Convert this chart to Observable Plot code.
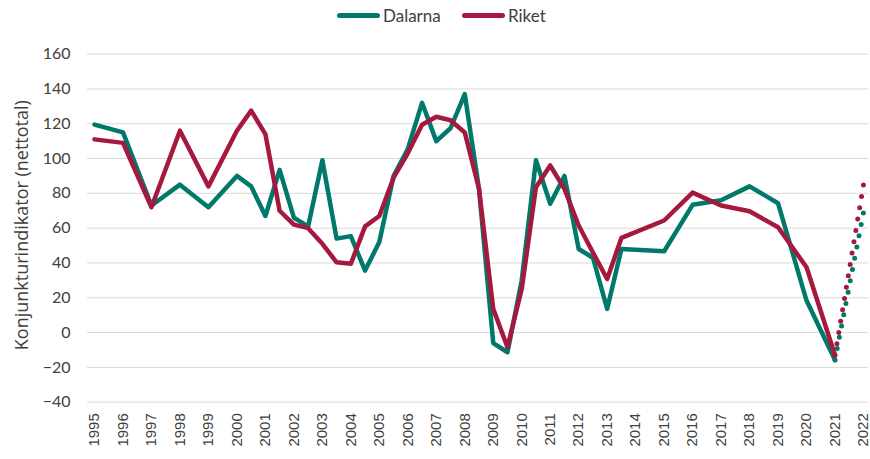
<!DOCTYPE html>
<html><head><meta charset="utf-8">
<script src="https://cdn.jsdelivr.net/npm/d3@7"></script>
<script src="https://cdn.jsdelivr.net/npm/@observablehq/plot@0.6"></script>
<style>
body{margin:0;background:#fff;font-family:Lato,"Liberation Sans",Arial,sans-serif;}
#legend{position:relative;height:30px;width:870px;font-family:Lato,"Open Sans",sans-serif;font-size:17px;color:#404040;}
.item{position:absolute;top:0;height:30px;display:flex;align-items:center;}
.sw{display:inline-block;width:43px;height:5px;border-radius:3px;margin-right:3px;}
</style></head><body>
<div id="legend"></div>
<div id="chart"></div>
<script>
// Time points (years, half-years)
const times = [1995,1996,1997,1998,1999,2000,2000.5,2001,2001.5,2002,2002.5,2003,2003.5,2004,2004.5,2005,2005.5,2006,2006.5,2007,2007.5,2008,2008.5,2009,2009.5,2010,2010.5,2011,2011.5,2012,2012.5,2013,2013.5,2015,2016,2017,2018,2019,2020,2021];
const dalarna = [119.5,115,73,85,72,90,84,67,93.5,66,61,99,54,55.4,35.6,52,90,105.5,132,110,117.4,137,82.6,-6,-11.3,30,99,74,90,48,43,13.6,48,46.7,73.4,76,84,74.3,18.4,-15.7];
const riket   = [111,109,72,116,84,116,127.5,114,70,62,60,51,40.4,39.5,61,67,89,103,119.4,124,122,115,82.6,13.6,-8.4,25,83.5,96,82.6,61.5,46,30.8,54.4,64.4,80.4,73,69.7,60.5,37.5,-13];
// Forecast (dotted)
const forecastTimes = [2021,2022];
const dalarnaForecast = [-15.7,69];
const riketForecast = [-13,85];
// Axis ticks
const xTicks = d3.range(1995, 2023);
const yTicks = [-40,-20,0,20,40,60,80,100,120,140,160];
const seriesNames = ["Dalarna","Riket"];
const colors = ["#00786A","#A6193E"];
const yTitle = "Konjunkturindikator (nettotal)";

const toRows = (t, v) => t.map((d,i) => ({t:d, v:v[i]}));

// legend
const leg = document.getElementById("legend");
const lefts = [337, 462];
seriesNames.forEach((n,i) => {
  const it = document.createElement("div");
  it.className = "item";
  it.style.left = lefts[i] + "px";
  it.innerHTML = `<span class="sw" style="background:${colors[i]}"></span><span>${n}</span>`;
  leg.appendChild(it);
});

const pxPerYear = 28.48;
const chart = Plot.plot({
  width: 870,
  height: 429,
  marginTop: 23.6,
  marginBottom: 57.3,
  marginLeft: 87,
  marginRight: 2,
  style: {color: "#404040", background: "#fff"},
  x: {type: "linear", domain: [1995 - 7/pxPerYear, 2022 + 5/pxPerYear]},
  y: {domain: [-40, 160]},
  marks: [
    Plot.gridY(yTicks, {stroke: "#d9d9d9", strokeOpacity: 1, strokeWidth: 1}),
    Plot.axisY(yTicks, {tickSize: 0, tickPadding: 17, fontSize: 16, label: null, fill: "#404040", fontFamily: "Lato"}),
    Plot.axisX(xTicks, {tickSize: 0, tickPadding: 11, tickRotate: -90, fontSize: 15, label: null, tickFormat: d => String(d), fill: "#404040", fontFamily: "Liberation Sans"}),
    Plot.text([yTitle], {frameAnchor: "left", textAnchor: "middle", rotate: -90, dx: -65, dy: -3, fontSize: 18, fill: "#404040", fontFamily: "Open Sans", text: d => d}),
    Plot.line(toRows(times, dalarna), {x: "t", y: "v", stroke: colors[0], strokeWidth: 4.5, strokeLinejoin: "round", strokeLinecap: "round"}),
    Plot.line(toRows(times, riket), {x: "t", y: "v", stroke: colors[1], strokeWidth: 4.5, strokeLinejoin: "round", strokeLinecap: "round"}),
    Plot.line(toRows(forecastTimes, dalarnaForecast), {x: "t", y: "v", stroke: colors[0], strokeWidth: 5, strokeLinecap: "round", strokeDasharray: "0 11.5"}),
    Plot.line(toRows(forecastTimes, riketForecast), {x: "t", y: "v", stroke: colors[1], strokeWidth: 5, strokeLinecap: "round", strokeDasharray: "0 11.5"})
  ]
});
document.getElementById("chart").appendChild(chart);
</script>
</body></html>
